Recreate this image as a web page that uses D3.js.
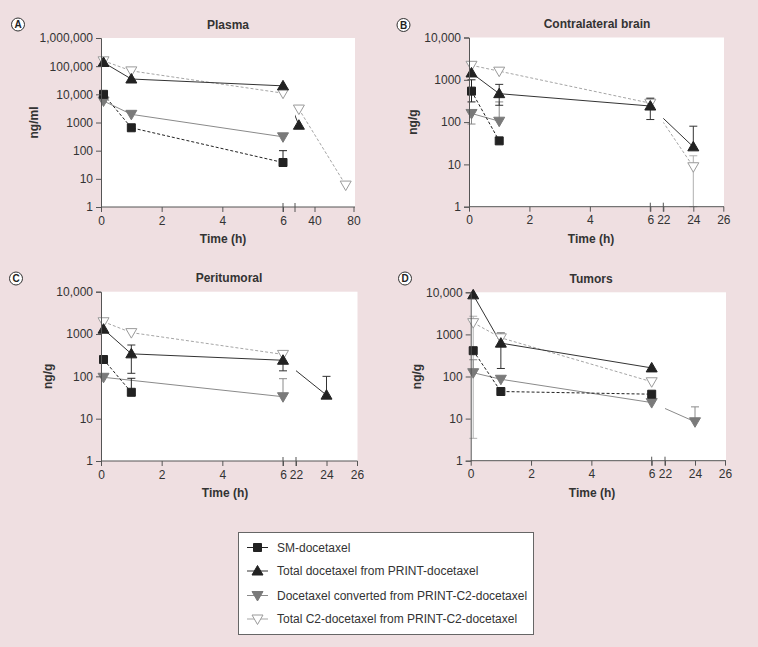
<!DOCTYPE html>
<html><head><meta charset="utf-8">
<script src="https://cdn.jsdelivr.net/npm/d3@7"></script>
<style>
html,body{margin:0;padding:0;background:#efdfe1;}
svg{display:block;font-family:"Liberation Sans",Arial,sans-serif;}
</style></head>
<body>
<svg id="chart" width="758" height="647"></svg>
<script>
// ---------------- DATA ----------------
const seriesNames = ["SM-docetaxel","Total docetaxel from PRINT-docetaxel","Docetaxel converted from PRINT-C2-docetaxel","Total C2-docetaxel from PRINT-C2-docetaxel"];
const yTickValues4 = [1,10,100,1000,10000];
const yTickValues6 = [1,10,100,1000,10000,100000,1000000];
const xTicksPlasma = [0,2,4,6,40,80];
const xTicksTissue = [0,2,4,6,22,24,26];

// Panel A: Plasma (ng/ml)
const timesPlasma = [0.083, 1, 6, 24, 72];
const plasmaSM    = [10000, 650, 38, null, null];
const plasmaTotal = [135000, 35000, 20000, 800, null];
const plasmaConv  = [5800, 1950, 310, null, null];
const plasmaC2    = [155000, 68000, 11000, 3000, 6];
const plasmaSMErr    = [null, null, [null,100], null, null];
const plasmaTotalErr = [null, null, null, null, null];
const plasmaConvErr  = [null, null, null, null, null];
const plasmaC2Err    = [null, null, null, null, null];

// Panel B: Contralateral brain (ng/g)
const timesBrain = [0.083, 1, 6, 24];
const brainSM    = [540, 36, null, null];
const brainTotal = [1450, 470, 240, 26];
const brainConv  = [160, 105, null, null];
const brainC2    = [2200, 1600, 280, 8.8];
const brainSMErr    = [[300,1000], null, null, null];
const brainTotalErr = [null, [250,780], [115,360], [null,80]];
const brainConvErr  = [[90,null], [null,300], null, null];
const brainC2Err    = [null, null, [null,380], [1,16]];

// Panel C: Peritumoral (ng/g)
const timesPeri = [0.083, 1, 6, 24];
const periSM    = [250, 42, null, null];
const periTotal = [1300, 340, 240, 36];
const periConv  = [95, null, 33, null];
const periC2    = [1950, 1080, 330, null];
const periSMErr    = [null, [null,90], null, null];
const periTotalErr = [null, [118,550], [135,null], [null,100]];
const periConvErr  = [null, null, [null,88], null];
const periC2Err    = [null, null, [null,380], null];

// Panel D: Tumors (ng/g)
const timesTumor = [0.083, 1, 6, 24];
const tumorSM    = [410, 44, 38, null];
const tumorTotal = [8700, 620, 160, null];
const tumorConv  = [123, 86, 24, 8.4];
const tumorC2    = [1900, 830, 75, null];
const tumorSMErr    = [null, null, null, null];
const tumorTotalErr = [null, [155,1080], null, null];
const tumorConvErr  = [[null,250], null, null, [null,19]];
const tumorC2Err    = [[3.4,2700], null, null, null];

// ---------------- STYLES ----------------
const styles = [
  {marker:"square",  fill:"#222", stroke:"#222", line:"#222", dash:"3,2", err:"#222"},
  {marker:"up",      fill:"#222", stroke:"#222", line:"#333", dash:null,  err:"#333"},
  {marker:"down",    fill:"#7a7a7a", stroke:"#7a7a7a", line:"#8a8a8a", dash:null, err:"#8a8a8a"},
  {marker:"downOpen",fill:"#fff", stroke:"#9a9a9a", line:"#a5a5a5", dash:"3,2", err:"#b0b0b0"}
];

const panels = [
  {letter:"A", title:"Plasma", ylabel:"ng/ml", times:timesPlasma,
   values:[plasmaSM,plasmaTotal,plasmaConv,plasmaC2], errs:[plasmaSMErr,plasmaTotalErr,plasmaConvErr,plasmaC2Err],
   xDomain:[0,6,20,80], xRange:[101,283,295,353.5], right:355, yTop:38, yBot:207, yMax:1e6, yTicks:yTickValues6,
   xTicks:xTicksPlasma, brk:[6,20], letterPos:[18,24.5], titleX:228, xlabelX:223, ylabelX:34},
  {letter:"B", title:"Contralateral brain", ylabel:"ng/g", times:timesBrain,
   values:[brainSM,brainTotal,brainConv,brainC2], errs:[brainSMErr,brainTotalErr,brainConvErr,brainC2Err],
   xDomain:[0,6,22,26], xRange:[469,650.3,663.3,723.3], right:724, yTop:37.5, yBot:206.7, yMax:1e4, yTicks:yTickValues4,
   xTicks:xTicksTissue, brk:[6,22], letterPos:[403.5,25], titleX:597, xlabelX:591, ylabelX:413},
  {letter:"C", title:"Peritumoral", ylabel:"ng/g", times:timesPeri,
   values:[periSM,periTotal,periConv,periC2], errs:[periSMErr,periTotalErr,periConvErr,periC2Err],
   xDomain:[0,6,22,26], xRange:[101,283,296,357], right:357.5, yTop:291.7, yBot:461, yMax:1e4, yTicks:yTickValues4,
   xTicks:xTicksTissue, brk:[6,22], letterPos:[16,278.5], titleX:229, xlabelX:225, ylabelX:48},
  {letter:"D", title:"Tumors", ylabel:"ng/g", times:timesTumor,
   values:[tumorSM,tumorTotal,tumorConv,tumorC2], errs:[tumorSMErr,tumorTotalErr,tumorConvErr,tumorC2Err],
   xDomain:[0,6,22,26], xRange:[470.7,651.7,665,725], right:726, yTop:292.3, yBot:460.7, yMax:1e4, yTicks:yTickValues4,
   xTicks:xTicksTissue, brk:[6,22], letterPos:[405,278.5], titleX:591, xlabelX:592, ylabelX:417}
];

const svg = d3.select("#chart");
svg.append("rect").attr("width",758).attr("height",647).attr("fill","#efdfe1");

function markerPath(type){
  if(type==="square") return "M-4,-4H4V4H-4Z";
  if(type==="up") return "M0,-5.5L5.5,4L-5.5,4Z";
  return "M-5.5,-4L5.5,-4L0,5.5Z";
}
const yFmt = v => v>=10000 ? d3.format(",")(v) : String(v);

panels.forEach((p,pi)=>{
  const g = svg.append("g");
  const x = d3.scaleLinear().domain(p.xDomain).range(p.xRange);
  const y = d3.scaleLog().domain([1,p.yMax]).range([p.yBot,p.yTop]);
  const x0 = p.xRange[0], x6 = p.xRange[1], xb = p.xRange[2];

  // plot background
  g.append("rect").attr("x",x0).attr("y",p.yTop).attr("width",p.right-x0).attr("height",p.yBot-p.yTop).attr("fill","#fff");

  // clip path excluding the axis break
  const cid = "clip"+pi;
  const cp = svg.append("clipPath").attr("id",cid);
  cp.append("rect").attr("x",x0-20).attr("y",p.yTop-20).attr("width",x6-x0+20).attr("height",p.yBot-p.yTop+40);
  cp.append("rect").attr("x",xb).attr("y",p.yTop-20).attr("width",p.right-xb+20).attr("height",p.yBot-p.yTop+40);

  // lines
  const lineG = g.append("g").attr("clip-path",`url(#${cid})`);
  [3,2,0,1].forEach(si=>{
    const st = styles[si];
    const pts = p.times.map((t,i)=>[t,p.values[si][i]]).filter(d=>d[1]!=null);
    lineG.append("path")
      .attr("d", d3.line().x(d=>x(d[0])).y(d=>y(d[1]))(pts))
      .attr("fill","none").attr("stroke",st.line).attr("stroke-width",1)
      .attr("stroke-dasharray",st.dash);
  });

  // error bars
  [3,2,0,1].forEach(si=>{
    const st = styles[si];
    p.times.forEach((t,i)=>{
      const e = p.errs[si][i]; const v = p.values[si][i];
      if(!e || v==null) return;
      const cx = x(t);
      const lo = e[0]!=null ? e[0] : v, hi = e[1]!=null ? e[1] : v;
      g.append("line").attr("x1",cx).attr("x2",cx).attr("y1",y(lo)).attr("y2",y(hi))
        .attr("stroke",st.err).attr("stroke-width",1);
      [e[0],e[1]].forEach(ev=>{
        if(ev==null) return;
        g.append("line").attr("x1",cx-4).attr("x2",cx+4).attr("y1",y(ev)).attr("y2",y(ev))
          .attr("stroke",st.err).attr("stroke-width",1);
      });
    });
  });

  // markers
  [3,2,0,1].forEach(si=>{
    const st = styles[si];
    p.times.forEach((t,i)=>{
      const v = p.values[si][i]; if(v==null) return;
      g.append("path").attr("d",markerPath(st.marker==="downOpen"?"down":st.marker))
        .attr("transform",`translate(${x(t)},${y(v)})`)
        .attr("fill",st.fill).attr("stroke",st.stroke).attr("stroke-width",1);
    });
  });

  // y axis
  const ya = g.append("g").attr("transform",`translate(${x0},0)`)
    .call(d3.axisLeft(y).tickValues(p.yTicks).tickFormat(yFmt).tickSize(5).tickPadding(3));
  ya.select(".domain").attr("stroke","#555");
  ya.selectAll(".tick line").attr("stroke","#555");
  ya.selectAll("text").attr("font-size","12px").attr("fill","#333").attr("font-family","Liberation Sans, Arial, sans-serif");

  // x axis
  const xa = g.append("g").attr("transform",`translate(0,${p.yBot})`)
    .call(d3.axisBottom(x).tickValues(p.xTicks).tickFormat(d=>d).tickSize(5).tickPadding(4));
  xa.select(".domain").attr("d",`M${x0},0H${p.right}`).attr("stroke","#555");
  xa.selectAll(".tick line").attr("stroke","#555");
  xa.selectAll("text").attr("font-size","12px").attr("fill","#333").attr("font-family","Liberation Sans, Arial, sans-serif");
  // break marks
  p.brk.forEach(b=>{
    g.append("line").attr("x1",x(b)).attr("x2",x(b)).attr("y1",p.yBot-4).attr("y2",p.yBot+5)
      .attr("stroke","#555").attr("stroke-width",1);
  });

  // title, labels
  g.append("text").attr("x",p.titleX).attr("y",p.yTop-9.5).attr("text-anchor","middle")
    .attr("font-weight","bold").attr("font-size","12px").attr("fill","#333").text(p.title);
  g.append("text").attr("x",p.xlabelX).attr("y",p.yBot+36).attr("text-anchor","middle")
    .attr("font-weight","bold").attr("font-size","12px").attr("fill","#333").text("Time (h)");
  g.append("text").attr("transform",`translate(${p.ylabelX},${(p.yTop+p.yBot)/2}) rotate(-90)`)
    .attr("text-anchor","middle").attr("dy","0.35em")
    .attr("font-weight","bold").attr("font-size","12px").attr("fill","#333").text(p.ylabel);

  // panel letter
  g.append("circle").attr("cx",p.letterPos[0]).attr("cy",p.letterPos[1]).attr("r",6.5)
    .attr("fill","#fff").attr("stroke","#333").attr("stroke-width",1);
  g.append("text").attr("x",p.letterPos[0]).attr("y",p.letterPos[1]).attr("dy","0.36em")
    .attr("text-anchor","middle").attr("font-weight","bold").attr("font-size","10px").attr("fill","#222").text(p.letter);
});

// ---------------- LEGEND ----------------
const lg = svg.append("g");
lg.append("rect").attr("x",238.5).attr("y",532.5).attr("width",295).attr("height",102)
  .attr("fill","#fff").attr("stroke","#666").attr("stroke-width",1);
const legY = [547.5, 571, 595.5, 619];
seriesNames.forEach((name,i)=>{
  const st = styles[i];
  lg.append("line").attr("x1",247).attr("x2",268).attr("y1",legY[i]).attr("y2",legY[i])
    .attr("stroke",st.line).attr("stroke-width",1);
  lg.append("path").attr("d",markerPath(st.marker==="downOpen"?"down":st.marker))
    .attr("transform",`translate(257.5,${legY[i]})`)
    .attr("fill",st.fill).attr("stroke",st.stroke);
  lg.append("text").attr("x",277).attr("y",legY[i]).attr("dy","0.35em")
    .attr("font-size","12px").attr("fill","#333").text(name);
});
</script>
</body></html>
